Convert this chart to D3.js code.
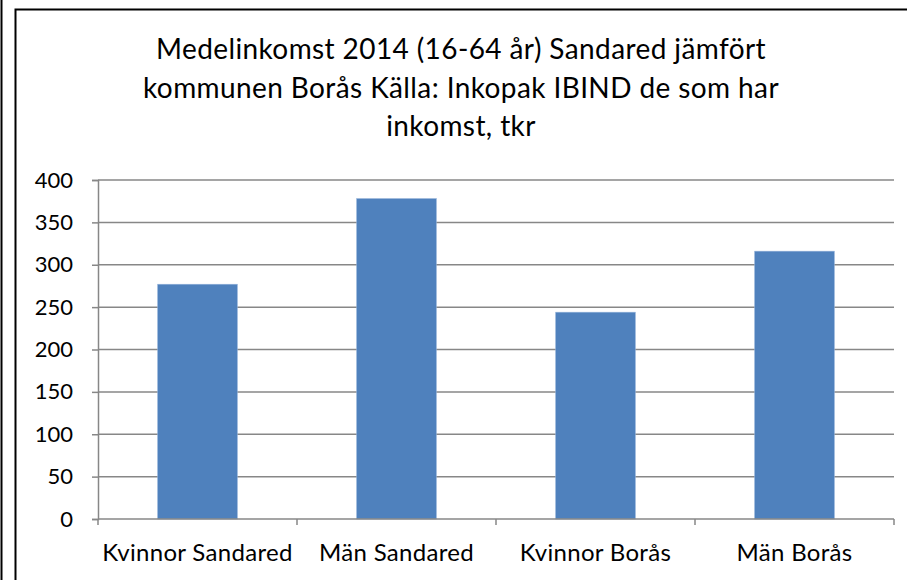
<!DOCTYPE html>
<html>
<head>
  <meta charset="utf-8">
  <title>Medelinkomst 2014</title>
  <script src="https://d3js.org/d3.v7.min.js"></script>
  <style>
    body { margin: 0; background: #fff; overflow: hidden; }
    text { font-family: Lato, "Open Sans", sans-serif; fill: #000; }
  </style>
</head>
<body>
  <svg width="907" height="580"></svg>

  <script>
    // Data
    const categories = ["Kvinnor Sandared", "Män Sandared", "Kvinnor Borås", "Män Borås"];
    const values = [277, 378, 244, 316];
    const yTicks = [0, 50, 100, 150, 200, 250, 300, 350, 400];
    const titleLines = [
      "Medelinkomst 2014 (16-64 år) Sandared jämfört",
      "kommunen Borås Källa: Inkopak IBIND de som har",
      "inkomst, tkr"
    ];

    const margin = { top: 180, right: 13, bottom: 61, left: 98 };
    const width = 907 - margin.left - margin.right;
    const height = 580 - margin.top - margin.bottom;

    const svgRoot = d3.select("svg");

    // outer frame lines
    svgRoot.append("line")
      .attr("x1", 1.5).attr("x2", 1.5).attr("y1", 0).attr("y2", 580)
      .attr("stroke", "#000").attr("stroke-width", 2);
    svgRoot.append("rect")
      .attr("x", 15.5).attr("y", 9.5).attr("width", 1000).attr("height", 700)
      .attr("fill", "none").attr("stroke", "#000").attr("stroke-width", 2);

    // title
    svgRoot.append("g")
      .selectAll("text")
      .data(titleLines)
      .join("text")
      .attr("x", 461)
      .attr("y", (d, i) => 59 + i * 38.5)
      .attr("text-anchor", "middle")
      .attr("font-size", 28)
      .attr("letter-spacing", 0.4)
      .text(d => d);

    const svg = svgRoot.append("g")
      .attr("transform", `translate(${margin.left},${margin.top})`);

    const x = d3.scaleBand()
      .domain(categories)
      .range([0, width])
      .paddingInner(0.6)
      .paddingOuter(0.3);

    const y = d3.scaleLinear()
      .domain([0, 400])
      .range([height, 0]);

    // gridlines
    svg.append("g")
      .selectAll("line")
      .data(yTicks.filter(d => d > 0))
      .join("line")
      .attr("x1", 0).attr("x2", width)
      .attr("y1", d => y(d)).attr("y2", d => y(d))
      .attr("stroke", "#878787").attr("stroke-width", 1.5);

    // bars
    svg.append("g")
      .selectAll("rect")
      .data(values)
      .join("rect")
      .attr("x", (d, i) => x(categories[i]))
      .attr("y", d => y(d))
      .attr("width", x.bandwidth())
      .attr("height", d => y(0) - y(d))
      .attr("fill", "#4F81BD")
      .attr("stroke", "#8EAED8")
      .attr("stroke-width", 0.6);

    // y axis
    const yAxis = svg.append("g")
      .call(d3.axisLeft(y).tickValues(yTicks).tickSize(6).tickPadding(20));
    yAxis.select(".domain").attr("stroke", "#878787").attr("stroke-width", 1.5);
    yAxis.selectAll(".tick line").attr("stroke", "#878787").attr("stroke-width", 1.5);
    yAxis.selectAll("text")
      .attr("font-size", 22)
      .attr("font-family", "Lato, 'Open Sans', sans-serif")
      .attr("dx", 1);

    // x axis: ticks on category boundaries
    const xEdge = d3.scaleLinear().domain([0, categories.length]).range([0, width]);
    const xAxis = svg.append("g")
      .attr("transform", `translate(0,${height})`);
    xAxis.append("line")
      .attr("x1", 0).attr("x2", width)
      .attr("stroke", "#878787").attr("stroke-width", 1.5);
    xAxis.selectAll(".edge")
      .data(d3.range(categories.length + 1))
      .join("line")
      .attr("class", "edge")
      .attr("x1", d => xEdge(d)).attr("x2", d => xEdge(d))
      .attr("y1", 0).attr("y2", 6)
      .attr("stroke", "#878787").attr("stroke-width", 1.5);
    xAxis.selectAll("text")
      .data(categories)
      .join("text")
      .attr("x", d => x(d) + x.bandwidth() / 2)
      .attr("y", 42)
      .attr("text-anchor", "middle")
      .attr("font-size", 24)
      .attr("letter-spacing", 0.3)
      .text(d => d);
  </script>
</body>
</html>
